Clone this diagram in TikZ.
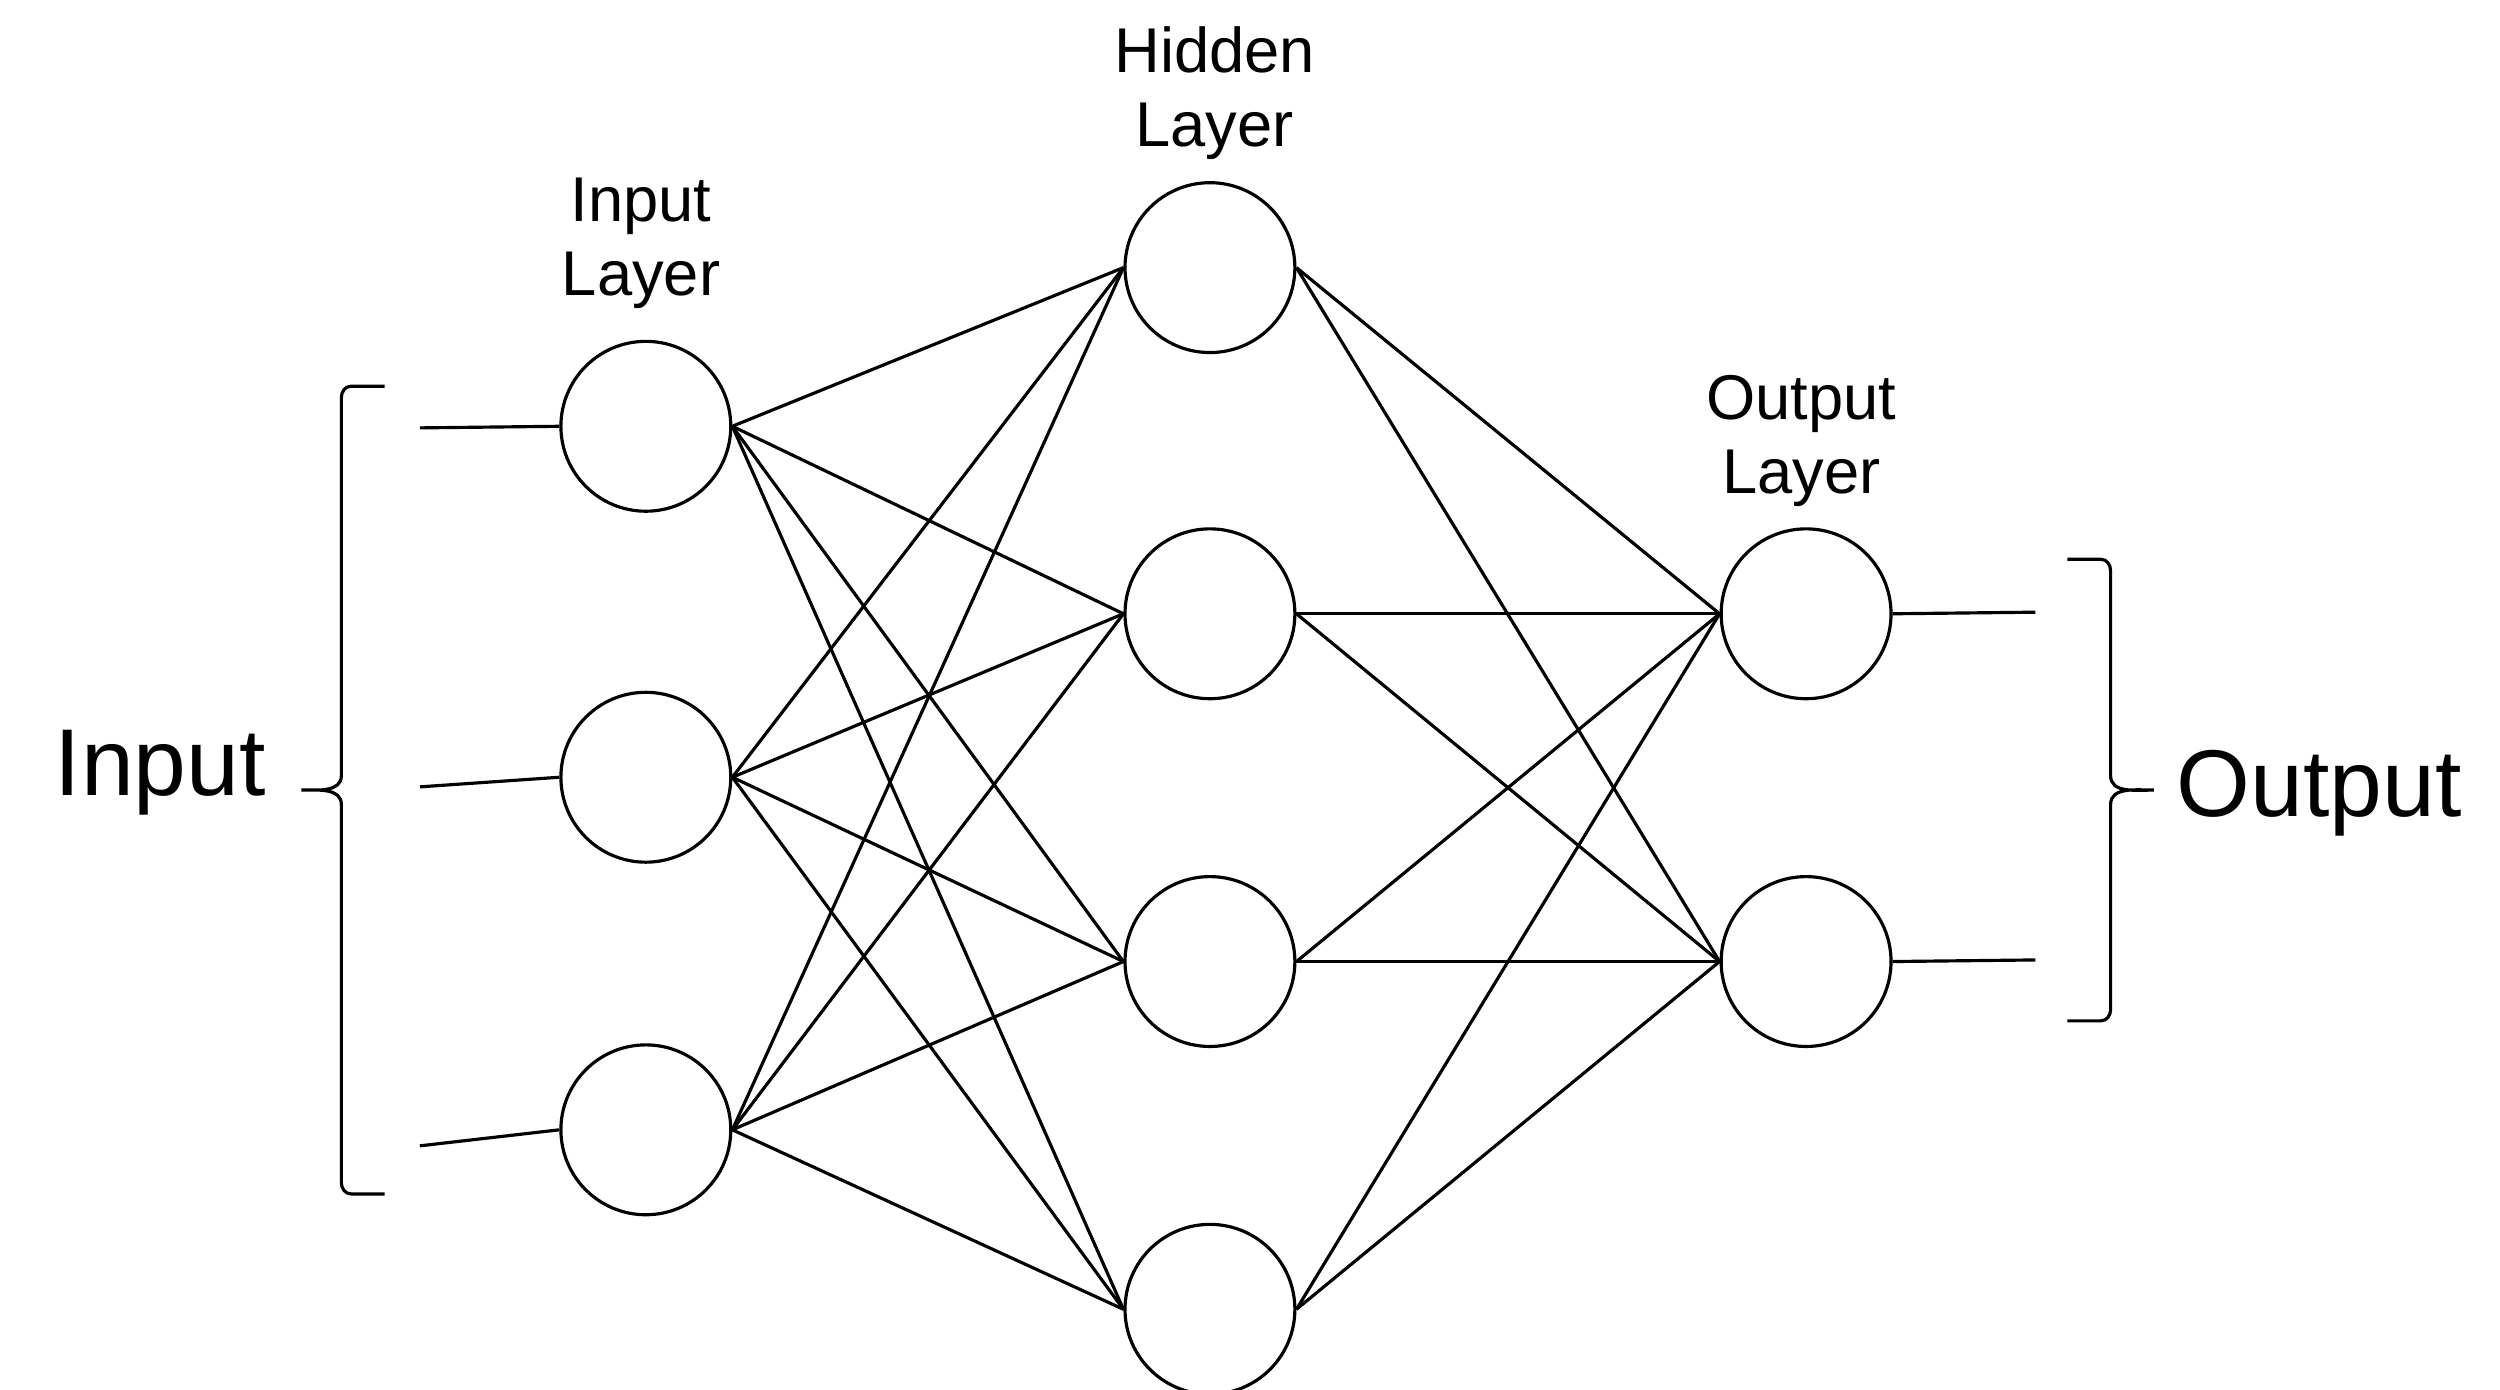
\documentclass[tikz,border=0pt]{standalone}
\usepackage{fontspec}
\setmainfont{Liberation Sans}
\begin{document}
\begin{tikzpicture}[x=0.016026cm,y=-0.016026cm,
  neuron/.style={circle,draw,line width=0.9pt,minimum size=106*0.016026cm,inner sep=0pt},
  conn/.style={line width=0.9pt},
  lbl/.style={font=\fontsize{18}{21}\selectfont,align=center},
  big/.style={font=\fontsize{27}{30}\selectfont}]
\useasboundingbox (0,0) rectangle (1560,867);
\foreach \i/\y in {1/266,2/485,3/705} \node[neuron] (i\i) at (403,\y) {};
\foreach \i/\y in {1/167,2/383,3/600,4/817} \node[neuron] (h\i) at (755,\y) {};
\foreach \i/\y in {1/383,2/600} \node[neuron] (o\i) at (1127,\y) {};
\foreach \a in {1,2,3} \foreach \b in {1,2,3,4} \draw[conn] (i\a.east) -- (h\b.west);
\foreach \a in {1,2,3,4} \foreach \b in {1,2} \draw[conn] (h\a.east) -- (o\b.west);
\coordinate (s1) at (262,267); \coordinate (s2) at (262,491); \coordinate (s3) at (262,715);
\foreach \i in {1,2,3} \draw[conn] (s\i) -- (i\i.west);
\coordinate (t1) at (1270,382); \coordinate (t2) at (1270,599);
\foreach \i in {1,2} \draw[conn] (o\i.east) -- (t\i);
\draw[conn] (240,241) -- (219,241) to[out=180,in=90] (213,248) -- (213,484) to[out=-90,in=0] (188,493)
  to[out=0,in=90] (213,502) -- (213,738) to[out=-90,in=180] (219,745) -- (240,745);
\draw[conn] (1290,349) -- (1311,349) to[out=0,in=90] (1317,356) -- (1317,484) to[out=-90,in=180] (1344,493)
  to[out=180,in=90] (1317,502) -- (1317,630) to[out=-90,in=0] (1311,637) -- (1290,637);
\node[big] (inl) at (100,482) {Input};
\node[big] (outl) at (1447,495) {Output};
\node[lbl] (l1) at (400,152) {Input\\Layer};
\node[lbl] (l2) at (758,58) {Hidden\\Layer};
\node[lbl] (l3) at (1124,275) {Output\\Layer};
\end{tikzpicture}
\end{document}
